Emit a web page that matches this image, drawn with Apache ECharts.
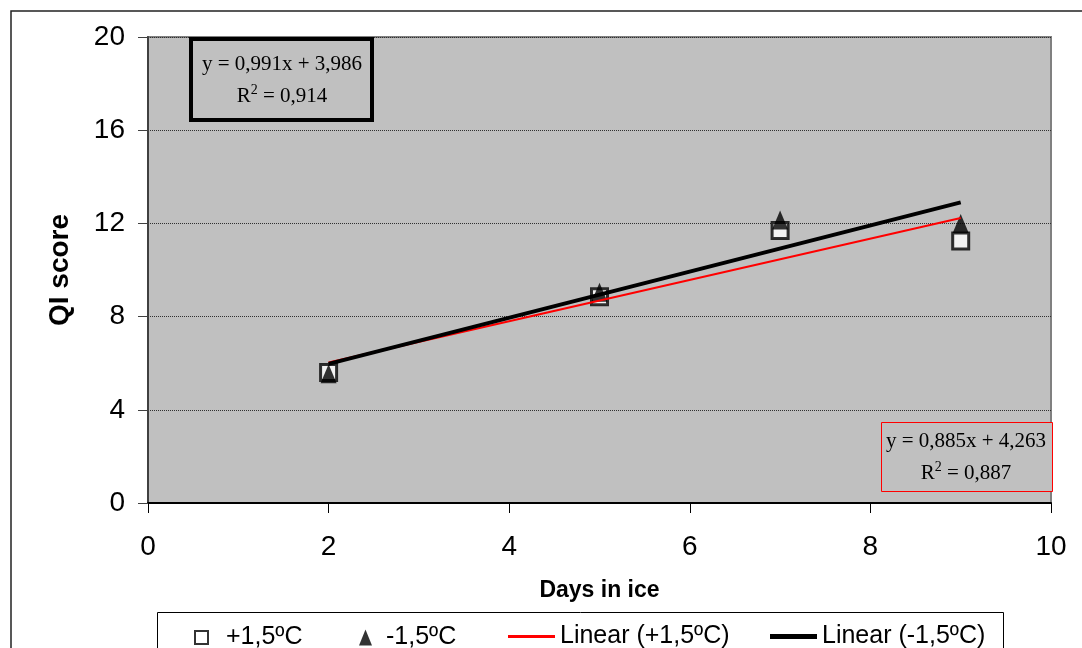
<!DOCTYPE html>
<html>
<head>
<meta charset="utf-8">
<script src="https://cdn.jsdelivr.net/npm/echarts@6/dist/echarts.min.js"></script>
<style>
    html, body { margin: 0; padding: 0; background: #fff; }
    #chart { width: 1082px; height: 648px; }
</style>
</head>
<body>
<div id="chart"></div>
<script>
// days in ice
const days = [2, 5, 7, 9]
// QI score per storage temperature
const plusTemp = [5.6, 8.85, 11.7, 11.25]
const minusTemp = [5.55, 9.05, 12.15, 12.0]
// trend line end points (x = 2 and x = 9)
const trendDays = [2, 9]
const trendPlus = [6.03, 12.23]
const trendMinus = [5.97, 12.9]

const xTicks = [0, 2, 4, 6, 8, 10]
const yTicks = [0, 4, 8, 12, 16, 20]

const seriesNames = ['+1,5ºC', '-1,5ºC', 'Linear (+1,5ºC)', 'Linear (-1,5ºC)']

const sans = '"Liberation Sans", Arial, sans-serif'
const serif = '"Liberation Serif", "Times New Roman", serif'

const pairs = (xs, ys) => xs.map((x, i) => [x, ys[i]])

const legendText = { fontFamily: sans, fontSize: 25, color: '#000' }

const chart = echarts.init(document.getElementById('chart'))

const option = {
    backgroundColor: '#fff',
    animation: false,
    grid: {
        left: 148,
        right: 31,
        top: 37,
        bottom: 145,
        show: true,
        backgroundColor: '#c0c0c0',
        borderColor: '#808080',
        borderWidth: 2
    },
    xAxis: {
        type: 'value',
        min: xTicks[0],
        max: xTicks[xTicks.length - 1],
        interval: 2,
        name: 'Days in ice',
        nameLocation: 'middle',
        nameGap: 76,
        nameTextStyle: { fontFamily: sans, fontSize: 23, fontWeight: 'bold', color: '#000' },
        axisLine: { lineStyle: { color: '#000', width: 2 } },
        axisTick: { show: true, length: 10, lineStyle: { color: '#000', width: 1 } },
        axisLabel: { fontFamily: sans, fontSize: 28, color: '#000', margin: 30 },
        splitLine: { show: false }
    },
    yAxis: {
        type: 'value',
        min: yTicks[0],
        max: yTicks[yTicks.length - 1],
        interval: 4,
        name: 'QI score',
        nameLocation: 'middle',
        nameGap: 74,
        nameTextStyle: { fontFamily: sans, fontSize: 28, fontWeight: 'bold', color: '#000' },
        axisLine: { show: true, lineStyle: { color: '#404040', width: 2 } },
        axisTick: { show: true, length: 10, lineStyle: { color: '#404040', width: 1 } },
        axisLabel: { fontFamily: sans, fontSize: 28, color: '#000', margin: 23 },
        splitLine: { show: true, lineStyle: { color: '#303030', width: 1, type: 'dotted' } }
    },
    legend: [
        {
            data: [seriesNames[0]],
            left: 189, top: 620,
            itemWidth: 13, itemHeight: 13,
            textStyle: Object.assign({ padding: [0, 0, 0, 13] }, legendText)
        },
        {
            data: [seriesNames[1]],
            left: 354, top: 620,
            itemWidth: 13, itemHeight: 16,
            textStyle: Object.assign({ padding: [0, 0, 0, 9] }, legendText)
        },
        {
            data: [{ name: seriesNames[2], icon: 'rect' }],
            left: 503, top: 619,
            itemWidth: 47, itemHeight: 3,
            textStyle: legendText
        },
        {
            data: [{ name: seriesNames[3], icon: 'rect' }],
            left: 765, top: 619,
            itemWidth: 47, itemHeight: 5,
            textStyle: legendText
        }
    ],
    graphic: [
        // outer chart border
        {
            type: 'rect', silent: true,
            shape: { x: 11, y: 11, width: 1100, height: 700 },
            style: { fill: null, stroke: '#222', lineWidth: 1.5 }
        },
        // legend box
        {
            type: 'rect', silent: true,
            shape: { x: 157.5, y: 612.5, width: 846, height: 60 },
            style: { fill: '#fff', stroke: '#000', lineWidth: 1 },
            z: -1
        },
        // equation box for -1,5
        {
            type: 'rect', silent: true, z: 10,
            shape: { x: 191, y: 39, width: 181, height: 81 },
            style: { fill: '#c0c0c0', stroke: '#000', lineWidth: 4 }
        },
        {
            type: 'text', silent: true, z: 11,
            x: 282, y: 64,
            style: {
                text: 'y = 0,991x + 3,986',
                font: '21px ' + serif, fill: '#000',
                align: 'center', verticalAlign: 'middle'
            }
        },
        {
            type: 'text', silent: true, z: 11,
            x: 282, y: 96,
            style: {
                text: '{n|R}{s|2}{n| = 0,914}',
                align: 'center', verticalAlign: 'middle',
                rich: {
                    n: { font: '21px ' + serif, fill: '#000' },
                    s: { font: '14px ' + serif, fill: '#000', verticalAlign: 'top', padding: [0, 0, 12, 0] }
                }
            }
        },
        // equation box for +1,5
        {
            type: 'rect', silent: true, z: 10,
            shape: { x: 881.5, y: 422.5, width: 171, height: 69 },
            style: { fill: '#c0c0c0', stroke: '#ff0000', lineWidth: 1 }
        },
        {
            type: 'text', silent: true, z: 11,
            x: 966, y: 441,
            style: {
                text: 'y = 0,885x + 4,263',
                font: '21px ' + serif, fill: '#000',
                align: 'center', verticalAlign: 'middle'
            }
        },
        {
            type: 'text', silent: true, z: 11,
            x: 966, y: 473,
            style: {
                text: '{n|R}{s|2}{n| = 0,887}',
                align: 'center', verticalAlign: 'middle',
                rich: {
                    n: { font: '21px ' + serif, fill: '#000' },
                    s: { font: '14px ' + serif, fill: '#000', verticalAlign: 'top', padding: [0, 0, 12, 0] }
                }
            }
        }
    ],
    series: [
        {
            name: seriesNames[0],
            type: 'scatter',
            symbol: 'rect',
            symbolSize: 16,
            itemStyle: { color: '#fff', borderColor: '#000', borderWidth: 3 },
            data: pairs(days, plusTemp),
            z: 2
        },
        {
            name: seriesNames[1],
            type: 'scatter',
            symbol: 'triangle',
            symbolSize: [16, 19],
            itemStyle: { color: '#000' },
            data: pairs(days, minusTemp),
            z: 3
        },
        {
            name: seriesNames[2],
            type: 'line',
            showSymbol: false,
            symbol: 'none',
            lineStyle: { color: '#ff0000', width: 2 },
            itemStyle: { color: '#ff0000' },
            data: pairs(trendDays, trendPlus),
            z: 4
        },
        {
            name: seriesNames[3],
            type: 'line',
            showSymbol: false,
            symbol: 'none',
            lineStyle: { color: '#000', width: 4 },
            itemStyle: { color: '#000' },
            data: pairs(trendDays, trendMinus),
            z: 5
        }
    ]
}

chart.setOption(option)
</script>
</body>
</html>
